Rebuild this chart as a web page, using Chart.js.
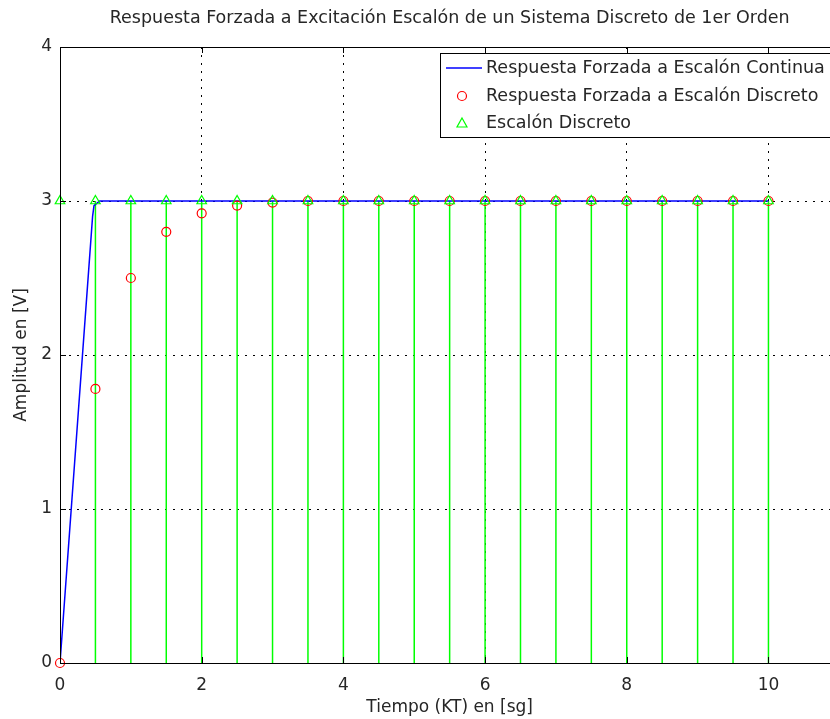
<!DOCTYPE html>
<html>
<head>
<meta charset="utf-8">
<title>Respuesta Forzada</title>
<script src="https://cdn.jsdelivr.net/npm/chart.js@4.4.0/dist/chart.umd.min.js"></script>
<style>
html, body { margin: 0; padding: 0; background: #fff; overflow: hidden; }
#wrap { width: 846px; height: 719px; }
</style>
</head>
<body>
<div id="wrap"><canvas id="chart" width="846" height="719"></canvas></div>
<script>
// Discrete time instants (KT), T = 0.5 s
const tDiscreto = [0, 0.5, 1, 1.5, 2, 2.5, 3, 3.5, 4, 4.5, 5, 5.5, 6, 6.5, 7, 7.5, 8, 8.5, 9, 9.5, 10];
// Forced response of the discrete system (red circles)
const yDiscreto = [0, 1.78, 2.5, 2.8, 2.92, 2.97, 2.99, 3, 3, 3, 3, 3, 3, 3, 3, 3, 3, 3, 3, 3, 3];
// Discrete step (green triangles + stems)
const yEscalon = [3, 3, 3, 3, 3, 3, 3, 3, 3, 3, 3, 3, 3, 3, 3, 3, 3, 3, 3, 3, 3];
// Continuous forced response (blue line)
const tContinua = [0, 0.46, 0.48, 0.56, 10];
const yContinua = [0, 2.9, 2.97, 3, 3];

const xTicks = [0, 2, 4, 6, 8, 10];
const yTicks = [0, 1, 2, 3, 4];

const legendLabels = [
    'Respuesta Forzada a Escalón Continua',
    'Respuesta Forzada a Escalón Discreto',
    'Escalón Discreto'
];

const FONT = 'DejaVu Sans';
const TEXT = '#262626';

// stems: each one goes from 0 up to the step value, separated by gaps
const stemData = tDiscreto.flatMap((t, i) => [
    { x: t, y: 0 },
    { x: t, y: yEscalon[i] },
    { x: t, y: null }
]);

// box frame, inner ticks and legend
const framePlugin = {
    id: 'frame',
    afterDraw(chart) {
        const { ctx, chartArea: a, scales } = chart;
        ctx.save();
        ctx.strokeStyle = '#000';
        ctx.lineWidth = 1;
        ctx.setLineDash([]);
        ctx.beginPath();
        xTicks.forEach(v => {
            const px = Math.round(scales.x.getPixelForValue(v)) + 0.5;
            ctx.moveTo(px, a.bottom); ctx.lineTo(px, a.bottom - 6);
            ctx.moveTo(px, a.top); ctx.lineTo(px, a.top + 6);
        });
        yTicks.forEach(v => {
            const py = Math.round(scales.y.getPixelForValue(v)) + 0.5;
            ctx.moveTo(a.left, py); ctx.lineTo(a.left + 6, py);
            ctx.moveTo(a.right, py); ctx.lineTo(a.right - 6, py);
        });
        ctx.stroke();
        ctx.strokeRect(Math.round(a.left) + 0.5, Math.round(a.top) + 0.5,
            Math.round(a.right - a.left), Math.round(a.bottom - a.top));

        // legend box
        const bx = 440, by = 53, bw = a.right - 6 - bx, bh = 84;
        ctx.fillStyle = '#fff';
        ctx.fillRect(bx, by, bw, bh);
        ctx.strokeRect(bx + 0.5, by + 0.5, bw, bh);
        const rows = [68, 96, 123];
        ctx.font = '17.5px "' + FONT + '"';
        ctx.fillStyle = TEXT;
        ctx.textBaseline = 'middle';
        ctx.textAlign = 'left';
        legendLabels.forEach((txt, i) => ctx.fillText(txt, 486, rows[i]));
        // line sample
        ctx.strokeStyle = '#0000ff';
        ctx.lineWidth = 1.5;
        ctx.beginPath();
        ctx.moveTo(446, rows[0]); ctx.lineTo(482, rows[0]);
        ctx.stroke();
        // circle
        ctx.strokeStyle = '#ff0000';
        ctx.lineWidth = 1.2;
        ctx.beginPath();
        ctx.arc(462, rows[1], 4.5, 0, Math.PI * 2);
        ctx.stroke();
        // triangle
        ctx.strokeStyle = '#00ff00';
        ctx.beginPath();
        ctx.moveTo(462, rows[2] - 5);
        ctx.lineTo(467, rows[2] + 4);
        ctx.lineTo(457, rows[2] + 4);
        ctx.closePath();
        ctx.stroke();
        ctx.restore();
    }
};

new Chart(document.getElementById('chart'), {
    type: 'line',
    data: {
        datasets: [
            {
                label: legendLabels[2],
                data: tDiscreto.map((t, i) => ({ x: t, y: yEscalon[i] })),
                showLine: false,
                pointStyle: 'triangle',
                pointRadius: 5.5,
                pointBorderColor: '#00ff00',
                pointBackgroundColor: 'rgba(0,0,0,0)',
                pointBorderWidth: 1.2,
                clip: false,
                order: 1
            },
            {
                label: legendLabels[1],
                data: tDiscreto.map((t, i) => ({ x: t, y: yDiscreto[i] })),
                showLine: false,
                pointStyle: 'circle',
                pointRadius: 4.5,
                pointBorderColor: '#ff0000',
                pointBackgroundColor: 'rgba(0,0,0,0)',
                pointBorderWidth: 1.2,
                clip: false,
                order: 2
            },
            {
                label: legendLabels[0],
                data: tContinua.map((t, i) => ({ x: t, y: yContinua[i] })),
                borderColor: '#0000ff',
                borderWidth: 1.5,
                pointRadius: 0,
                tension: 0,
                fill: false,
                order: 3
            },
            {
                label: 'stems',
                data: stemData,
                borderColor: '#00ff00',
                borderWidth: 1.5,
                pointRadius: 0,
                spanGaps: false,
                fill: false,
                order: 4
            }
        ]
    },
    options: {
        responsive: false,
        animation: false,
        layout: { padding: { left: 0, right: 5, top: 0, bottom: 0 } },
        plugins: {
            legend: { display: false },
            tooltip: { enabled: false },
            title: {
                display: true,
                fullSize: false,
                text: 'Respuesta Forzada a Excitación Escalón de un Sistema Discreto de 1er Orden',
                color: TEXT,
                font: { family: FONT, size: 17.5, weight: 'normal', lineHeight: 1.2 },
                padding: { top: 8, bottom: 18 }
            }
        },
        scales: {
            x: {
                type: 'linear',
                min: 0,
                max: 11,
                offset: false,
                afterFit: s => { s.height = 56; },
                ticks: {
                    stepSize: 2,
                    includeBounds: false,
                    color: TEXT,
                    padding: 12,
                    font: { family: FONT, size: 17, lineHeight: 1.2 }
                },
                grid: { color: '#000', lineWidth: 1, drawTicks: false, offset: false },
                border: { display: true, color: '#000', dash: [2, 6] },
                title: {
                    display: true,
                    text: 'Tiempo (KT) en [sg]',
                    color: TEXT,
                    font: { family: FONT, size: 17, lineHeight: 1.2 },
                    padding: { top: 0, bottom: 1 }
                }
            },
            y: {
                type: 'linear',
                min: 0,
                max: 4,
                afterFit: s => { s.width = 60; },
                ticks: {
                    stepSize: 1,
                    color: TEXT,
                    padding: 8,
                    font: { family: FONT, size: 17, lineHeight: 1.2 }
                },
                grid: { color: '#000', lineWidth: 1, drawTicks: false },
                border: { display: true, color: '#000', dash: [2, 6] },
                title: {
                    display: true,
                    text: 'Amplitud en [V]',
                    color: TEXT,
                    font: { family: FONT, size: 17, lineHeight: 1.2 },
                    padding: { top: 11, bottom: 0 }
                }
            }
        }
    },
    plugins: [framePlugin]
});
</script>
</body>
</html>
